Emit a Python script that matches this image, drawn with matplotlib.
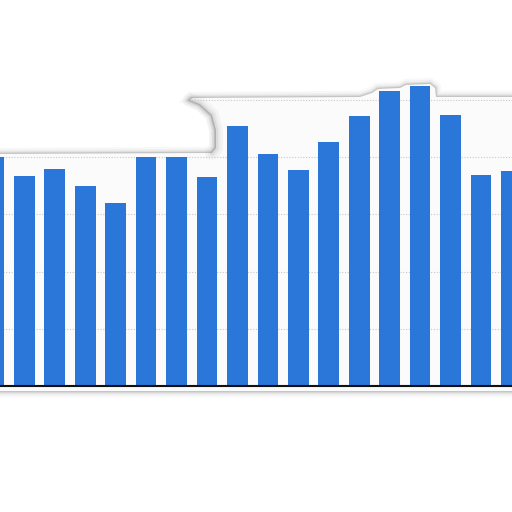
import matplotlib
matplotlib.use("Agg")
import matplotlib.pyplot as plt
from matplotlib.patches import Polygon
from matplotlib.transforms import Affine2D

# valores (grade a cada 20)
posicoes = list(range(18))
valores = [80, 73.5, 75.8, 70, 64, 80, 80, 73.2, 90.8, 81, 75.5, 85.4,
           94.4, 103.2, 104.8, 94.8, 73.8, 75.2]
grade = [20, 40, 60, 80, 100]

cor_barra = "#2b76d9"

fig = plt.figure(figsize=(5.12, 5.12), dpi=100)
fig.patch.set_facecolor("white")
ax = fig.add_axes([0, 0, 1, 1])
ax.set_facecolor("none")
ax.set_zorder(1)

# contorno do "papel" recortado, em pixels (y a partir do topo)
px = Affine2D().scale(1 / 512, -1 / 512).translate(0, 1) + fig.transFigure
contorno = [(-5, 154), (212, 153), (216, 148), (216, 130), (212, 115),
            (200, 104), (190, 100), (192, 98), (360, 97), (372, 93),
            (378, 89), (400, 88), (406, 85), (430, 84), (435, 88),
            (436, 97), (520, 97), (520, 391), (-5, 391)]
dobra = [(190, 100), (200, 104), (212, 115), (216, 130), (216, 148),
         (212, 153)]

for lw, a in [(9, 0.04), (6, 0.06), (3.5, 0.10), (1.8, 0.18)]:
    sombra = Polygon(contorno, closed=True, transform=px, facecolor="none",
                     edgecolor="#555555", linewidth=lw, alpha=a, zorder=-2)
    fig.add_artist(sombra)
papel = Polygon(contorno, closed=True, transform=px, facecolor="#fbfbfb",
                edgecolor="none", zorder=-1)
fig.add_artist(papel)
# sombra mais forte na dobra do papel
for lw, a in [(10, 0.05), (6, 0.07), (3, 0.10)]:
    xs = [p[0] for p in dobra]
    ys = [p[1] for p in dobra]
    fig.add_artist(plt.Line2D(xs, ys, transform=px, color="#666666",
                              linewidth=lw, alpha=a, zorder=-0.5,
                              solid_capstyle="round"))
clip = Polygon(contorno, closed=True, transform=px)

ax.bar(posicoes, valores, width=0.68, color=cor_barra, zorder=3)
ax.set_xlim(0.202, 17.017)
ax.set_ylim(-44.06, 134.97)

for g in grade:
    linha = ax.axhline(g, color="#c8c8c8", linewidth=0.8, linestyle=(0, (1, 1.5)), zorder=1)
    linha.set_clip_path(clip)
ax.axhline(0, color="#111111", linewidth=1.5, zorder=4)

ax.axis("off")
fig.savefig("out.png", dpi=100, facecolor="white")
